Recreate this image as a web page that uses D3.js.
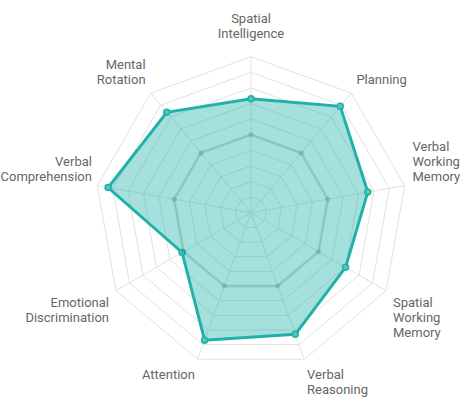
<!DOCTYPE html>
<html>
<head>
<meta charset="utf-8">
<script src="https://cdn.jsdelivr.net/npm/d3@7"></script>
<style>
  body { margin: 0; background: #fff; }
  svg { display: block; }
</style>
</head>
<body>
<div id="chart"></div>
<script>
// chart values
var labels = [
  ["Spatial", "Intelligence"],
  ["Planning"],
  ["Verbal", "Working", "Memory"],
  ["Spatial", "Working", "Memory"],
  ["Verbal", "Reasoning"],
  ["Attention"],
  ["Emotional", "Discrimination"],
  ["Verbal", "Comprehension"],
  ["Mental", "Rotation"]
];
var scores = [73, 89, 76, 70, 83, 87, 51, 93, 84];
var average = [50, 50, 50, 50, 50, 50, 50, 50, 50];
var ticks = [10, 20, 30, 40, 50, 60, 70, 80, 90, 100];

var width = 468, height = 411;
var cx = 251, cy = 212.7, R = 156;
var colour = "rgb(32,178,170)";

var svg = d3.select("#chart").append("svg")
  .attr("width", width)
  .attr("height", height);

var plot = svg.append("g")
  .attr("transform", "translate(" + cx + "," + cy + ")");

var r = d3.scaleLinear().domain([0, 100]).range([0, R]);
var angle = d3.scaleLinear().domain([0, labels.length]).range([0, 2 * Math.PI]);

function pos(i, rad) {
  var a = angle(i);
  return [rad * Math.sin(a), -rad * Math.cos(a)];
}

// grid rings
var line = d3.line().curve(d3.curveLinearClosed);
plot.selectAll(".ring").data(ticks).enter()
  .append("path")
    .attr("class", "ring")
    .attr("d", t => line(labels.map((l, i) => pos(i, r(t)))))
    .attr("fill", "none")
    .attr("stroke", "#e2e2e2")
    .attr("stroke-width", 1);

// spokes
plot.selectAll(".spoke").data(labels).enter()
  .append("line")
    .attr("class", "spoke")
    .attr("x1", 0).attr("y1", 0)
    .attr("x2", (d, i) => pos(i, r(100))[0])
    .attr("y2", (d, i) => pos(i, r(100))[1])
    .attr("stroke", "#e2e2e2")
    .attr("stroke-width", 1);

function drawSeries(vals, fill, stroke, sw, pr, pfill) {
  var pts = vals.map((v, i) => pos(i, r(v)));
  plot.append("path")
    .attr("d", line(pts))
    .attr("fill", fill)
    .attr("stroke", stroke)
    .attr("stroke-width", sw)
    .attr("stroke-linejoin", "miter");
  plot.selectAll(null).data(pts).enter()
    .append("circle")
      .attr("cx", d => d[0])
      .attr("cy", d => d[1])
      .attr("r", pr)
      .attr("fill", pfill)
      .attr("stroke", stroke)
      .attr("stroke-width", 1.5);
}

drawSeries(scores, "rgba(32,178,170,0.4)", colour, 3, 3, "rgb(80,196,190)");
drawSeries(average, "none", "rgba(20,120,120,0.15)", 3, 2, "rgba(20,120,120,0.15)");

// point labels, chart.js style placement
var lineH = 15;
labels.forEach(function(lines, i) {
  var deg = i * 360 / labels.length;
  var extra = i === 0 ? 8 : 0;
  var p = pos(i, R + 8 + extra);
  var anchor = (deg === 0 || deg === 180) ? "middle" : (deg < 180 ? "start" : "end");
  var h = lines.length * lineH;
  var top = p[1];
  if (deg === 90 || deg === 270) top -= h / 2;
  else if (deg > 270 || deg < 90) top -= h;
  var t = plot.append("text")
    .attr("text-anchor", anchor)
    .attr("font-family", "Roboto, sans-serif")
    .attr("font-size", 13)
    .attr("fill", "#666");
  var spans = lines.map(function(s, k) {
    return t.append("tspan")
      .attr("x", p[0])
      .attr("y", top + k * lineH + lineH / 2)
      .attr("dy", "0.35em")
      .text(s);
  });
  // keep labels inside the left edge
  if (anchor === "end") {
    var w = d3.max(spans, s => s.node().getComputedTextLength());
    var shift = Math.max(0, -(cx + p[0] - w) + 0.5);
    if (shift > 0) spans.forEach(s => s.attr("x", p[0] + shift));
  }
});
</script>
</body>
</html>
